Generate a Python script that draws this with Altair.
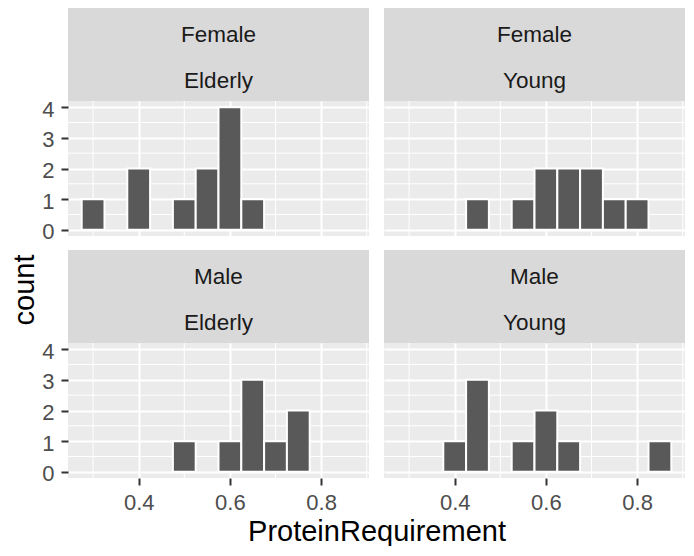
import altair as alt
import pandas as pd

# ---- data (bin centres, counts) ----
bin_width = 0.05
fe_centers = [0.30, 0.40, 0.50, 0.55, 0.60, 0.65]
fe_counts = [1, 2, 1, 2, 4, 1]
fy_centers = [0.45, 0.55, 0.60, 0.65, 0.70, 0.75, 0.80]
fy_counts = [1, 1, 2, 2, 2, 1, 1]
me_centers = [0.50, 0.60, 0.65, 0.70, 0.75]
me_counts = [1, 1, 3, 1, 2]
my_centers = [0.40, 0.45, 0.55, 0.60, 0.65, 0.85]
my_counts = [1, 3, 1, 2, 1, 1]

x_ticks = [0.4, 0.6, 0.8]
x_minor = [0.3, 0.5, 0.7, 0.9]
y_ticks = [0, 1, 2, 3, 4]
y_minor = [0.5, 1.5, 2.5, 3.5]
x_domain = [0.245, 0.905]
y_domain = [-0.2, 4.2]

W, H = 301, 135
STRIP = 93
COL_GAP = 15
ROW_GAP = STRIP + 14
FONT = "Liberation Sans"


def panel(centers, counts, sex, age, show_x, show_y, x_title=False, y_title=False):
    df = pd.DataFrame({"center": centers, "count": counts})
    df["lo"] = df["center"] - bin_width / 2
    df["hi"] = df["center"] + bin_width / 2
    df["base"] = 0

    xs = alt.Scale(domain=x_domain, nice=False, zero=False)
    ys = alt.Scale(domain=y_domain, nice=False, zero=False)

    if show_x and x_title:
        xa = alt.Axis(values=x_ticks, format=".1f", title="ProteinRequirement",
                      titleX=(2 * W + COL_GAP) / 2, titleY=62, titleAlign="center",
                      titleBaseline="alphabetic", labelBaseline="alphabetic",
                      labelPadding=24, tickSize=7)
    elif show_x:
        xa = alt.Axis(values=x_ticks, format=".1f", title=None,
                      labelBaseline="alphabetic", labelPadding=24, tickSize=7)
    else:
        xa = alt.Axis(values=x_ticks, labels=False, ticks=False, title=None)
    if show_y and y_title:
        ya = alt.Axis(values=y_ticks, title="count", titleX=-35,
                      titleY=(2 * H + ROW_GAP) / 2,
                      titleAngle=270, titleAlign="center",
                      titleBaseline="alphabetic", labelBaseline="alphabetic",
                      labelOffset=9, labelPadding=7, tickSize=7)
    elif show_y:
        ya = alt.Axis(values=y_ticks, title=None, labelBaseline="alphabetic",
                      labelOffset=9, labelPadding=7, tickSize=7)
    else:
        ya = alt.Axis(values=y_ticks, labels=False, ticks=False, title=None)

    vx = alt.Chart(pd.DataFrame({"v": x_minor})).mark_rule(
        color="white", strokeWidth=1).encode(x=alt.X("v:Q", scale=xs, axis=xa))
    vy = alt.Chart(pd.DataFrame({"v": y_minor})).mark_rule(
        color="white", strokeWidth=1).encode(y=alt.Y("v:Q", scale=ys, axis=ya))

    bars = alt.Chart(df).mark_rect(fill="#595959", stroke="white",
                                   strokeWidth=2).encode(
        x=alt.X("lo:Q", scale=xs, axis=xa),
        x2="hi:Q",
        y=alt.Y("base:Q", scale=ys, axis=ya),
        y2="count:Q",
    )

    sdf = pd.DataFrame({"sex": [sex], "age": [age]})
    strip = alt.Chart(sdf).mark_rect(fill="#D9D9D9").encode(
        x=alt.value(0), x2=alt.value(W), y=alt.value(-STRIP), y2=alt.value(0))
    t1 = alt.Chart(sdf).mark_text(font=FONT, fontSize=22.5, color="#1A1A1A",
                                  baseline="alphabetic", align="center").encode(
        x=alt.value(W / 2), y=alt.value(-59), text="sex:N")
    t2 = alt.Chart(sdf).mark_text(font=FONT, fontSize=22.5, color="#1A1A1A",
                                  baseline="alphabetic", align="center").encode(
        x=alt.value(W / 2), y=alt.value(-13), text="age:N")

    return alt.layer(vx, vy, bars, strip, t1, t2).properties(width=W, height=H)


p1 = panel(fe_centers, fe_counts, "Female", "Elderly", False, True, y_title=True)
p2 = panel(fy_centers, fy_counts, "Female", "Young", False, False)
p3 = panel(me_centers, me_counts, "Male", "Elderly", True, True, x_title=True)
p4 = panel(my_centers, my_counts, "Male", "Young", True, False)

chart = alt.concat(p1, p2, p3, p4, columns=2,
                   spacing={"row": ROW_GAP, "column": COL_GAP},
                   bounds="flush").properties(
    padding={"left": 2, "top": 0, "right": 0, "bottom": 0}
).configure(background="white").configure_view(
    fill="#EBEBEB", stroke=None
).configure_axis(
    domain=False, grid=True, gridColor="white", gridWidth=2,
    tickColor="#333333", tickWidth=2, labelColor="#4D4D4D",
    labelFont=FONT, labelFontSize=22, titleFont=FONT, titleFontSize=29,
    titleColor="black", titleFontWeight="normal",
)

chart.save("out.html", embed_options={"renderer": "svg", "actions": False})
